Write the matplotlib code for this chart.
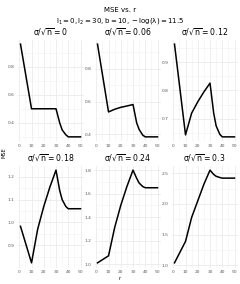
import numpy as np
import matplotlib
matplotlib.use("Agg")
import matplotlib.pyplot as plt
from matplotlib.ticker import MultipleLocator

plt.rcParams['mathtext.default'] = 'regular'
plt.rcParams['font.family'] = ['DejaVu Sans']

""" data """
r = [1, 10, 15, 20, 25, 30, 33, 35, 38, 40, 45, 50]
labels = ['0', '0.06', '0.12', '0.18', '0.24', '0.3']
mse = [
    [0.96, 0.50, 0.50, 0.50, 0.50, 0.50, 0.40, 0.35, 0.315, 0.30, 0.30, 0.30],
    [0.95, 0.537, 0.553, 0.565, 0.573, 0.582, 0.47, 0.43, 0.395, 0.385, 0.385, 0.385],
    [0.964, 0.643, 0.72, 0.76, 0.795, 0.826, 0.72, 0.675, 0.645, 0.636, 0.636, 0.636],
    [0.983, 0.823, 0.97, 1.07, 1.155, 1.229, 1.14, 1.10, 1.07, 1.06, 1.06, 1.06],
    [1.01, 1.07, 1.31, 1.50, 1.66, 1.80, 1.73, 1.69, 1.66, 1.65, 1.65, 1.65],
    [1.04, 1.39, 1.78, 2.05, 2.32, 2.55, 2.48, 2.45, 2.43, 2.42, 2.42, 2.42],
]
ysteps = [0.2, 0.2, 0.1, 0.1, 0.2, 0.5]

W, H = 240, 284
fig = plt.figure(figsize=(W / 100, H / 100), dpi=100)

lefts = [17.5, 94.5, 171.5]
tops = [39.5, 165.5]
pw, ph = 66, 102

for i in range(6):
    row, col = divmod(i, 3)
    ax = fig.add_axes([lefts[col] / W, 1 - (tops[row] + ph) / H, pw / W, ph / H])
    ax.plot(r, mse[i], color='black', lw=1.1)
    ax.xaxis.set_major_locator(MultipleLocator(10))
    ax.xaxis.set_minor_locator(MultipleLocator(5))
    ax.yaxis.set_major_locator(MultipleLocator(ysteps[i]))
    ax.yaxis.set_minor_locator(MultipleLocator(ysteps[i] / 2))
    ax.grid(which='major', color='#EBEBEB', lw=0.6)
    ax.grid(which='minor', color='#F2F2F2', lw=0.4)
    ax.set_axisbelow(True)
    for s in ax.spines.values():
        s.set_visible(False)
    ax.tick_params(which='both', length=0, labelsize=3.2, labelcolor='#5A5A5A', pad=2)
    ax.set_title(r'$\sigma/\sqrt{n} = %s$' % labels[i], fontsize=5.6, pad=3)

fig.text(0.5, 1 - 10 / H, 'MSE vs. r', ha='center', va='center', fontsize=5)
fig.text(0.5, 1 - 21 / H, r'$l_1 = 0, l_2 = 30, b = 10, -\log(\lambda) = 11.5$',
         ha='center', va='center', fontsize=5)
fig.text(4 / W, 1 - 153 / H, 'MSE', rotation=90, ha='center', va='center', fontsize=3.6)
fig.text(0.5, 1 - 278 / H, 'r', ha='center', va='center', fontsize=3.6)

plt.savefig('out.png', dpi=100)
